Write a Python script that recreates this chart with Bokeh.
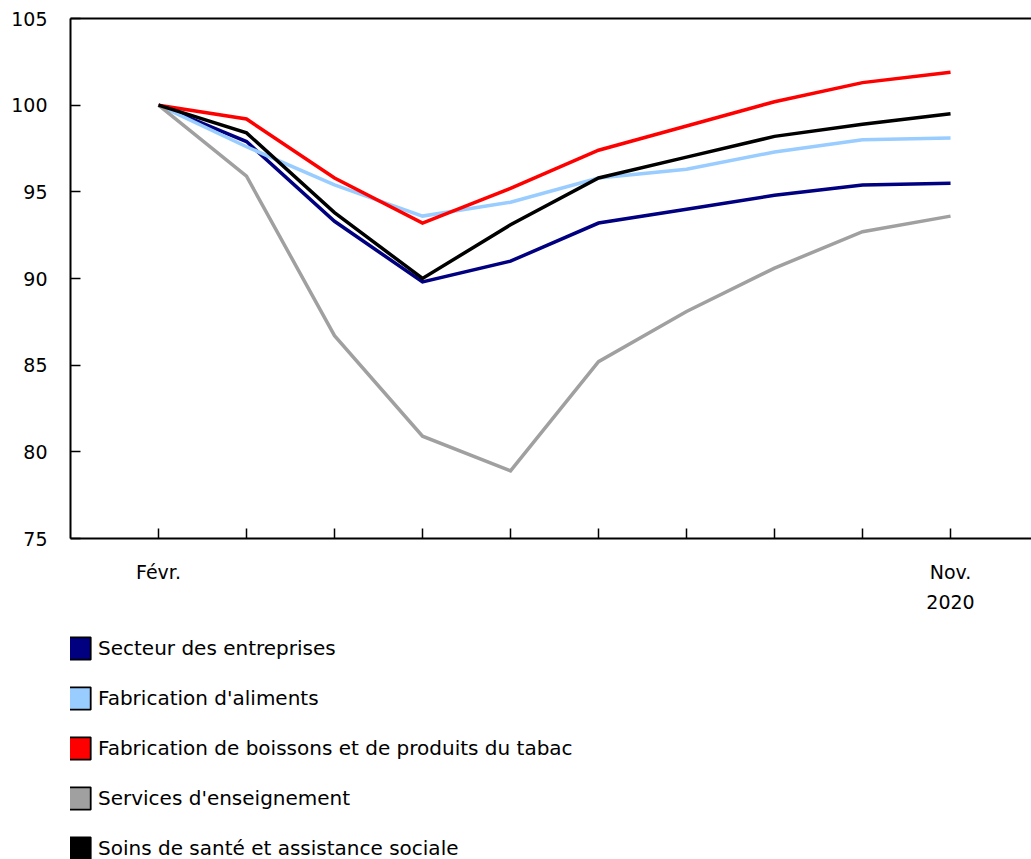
from bokeh.plotting import figure
from bokeh.layouts import column
from bokeh.models import Range1d, FixedTicker, LinearAxis, Legend, LegendItem
from bokeh.embed import file_html
from bokeh.resources import INLINE

# ---- data ----
months = ["Févr.", "Mars", "Avr.", "Mai", "Juin", "Juil.", "Août", "Sept.", "Oct.", "Nov."]
x_idx = list(range(len(months)))
tick_labels = {0: "Févr.", 9: "Nov.\n2020"}
y_ticks = [75, 80, 85, 90, 95, 100, 105]

secteur = [100.0, 97.9, 93.3, 89.8, 91.0, 93.2, 94.0, 94.8, 95.4, 95.5]
aliments = [100.0, 97.6, 95.4, 93.6, 94.4, 95.8, 96.3, 97.3, 98.0, 98.1]
boissons = [100.0, 99.2, 95.8, 93.2, 95.2, 97.4, 98.8, 100.2, 101.3, 101.9]
enseignement = [100.0, 95.9, 86.7, 80.9, 78.9, 85.2, 88.1, 90.6, 92.7, 93.6]
sante = [100.0, 98.4, 93.8, 90.0, 93.1, 95.8, 97.0, 98.2, 98.9, 99.5]

names = ["Secteur des entreprises", "Fabrication d'aliments",
         "Fabrication de boissons et de produits du tabac",
         "Services d'enseignement", "Soins de santé et assistance sociale"]
colors = ["#000080", "#99CCFF", "#FF0000", "#A0A0A0", "#000000"]
series = [secteur, aliments, boissons, enseignement, sante]

FONT = "DejaVu Sans"

p = figure(width=1031, height=623, output_backend="svg", toolbar_location=None,
           x_range=Range1d(-1, 9.92), y_range=Range1d(75, 105),
           min_border_left=70, min_border_right=0, min_border_top=18,
           min_border_bottom=85)
p.xgrid.visible = False
p.ygrid.visible = False
p.outline_line_color = None

# y axis
p.yaxis.ticker = FixedTicker(ticks=y_ticks)
p.yaxis.major_tick_in = 10
p.yaxis.major_tick_out = 0
p.yaxis.minor_tick_line_color = None
p.yaxis.axis_line_width = 2
p.yaxis.major_tick_line_width = 1.5
p.yaxis.axis_line_color = "black"
p.yaxis.major_tick_line_color = "black"
p.yaxis.major_label_text_font = FONT
p.yaxis.major_label_text_font_size = "19px"
p.yaxis.major_label_text_color = "black"
p.yaxis.major_label_standoff = 23

# x axis
p.xaxis.ticker = FixedTicker(ticks=x_idx)
p.xaxis.major_label_overrides = {i: tick_labels.get(i, "") for i in x_idx}
p.xaxis.major_tick_in = 10
p.xaxis.major_tick_out = 0
p.xaxis.minor_tick_line_color = None
p.xaxis.axis_line_width = 2
p.xaxis.major_tick_line_width = 1.5
p.xaxis.axis_line_color = "black"
p.xaxis.major_tick_line_color = "black"
p.xaxis.major_label_text_font = FONT
p.xaxis.major_label_text_font_size = "19px"
p.xaxis.major_label_text_color = "black"
p.xaxis.major_label_text_line_height = 1.38
p.xaxis.major_label_standoff = 22

# top line
top_axis = LinearAxis(ticker=FixedTicker(ticks=[]), major_label_text_font_size="0px",
                      major_tick_out=0, major_tick_in=0, minor_tick_out=0, minor_tick_in=0,
                      axis_line_width=2, axis_line_color="black", major_label_standoff=0)
p.add_layout(top_axis, "above")

for vals, c in zip(series, colors):
    p.line(x_idx, vals, line_color=c, line_width=3.5, line_join="miter")

# ---- legend panel ----
leg = figure(width=1031, height=236, output_backend="svg", toolbar_location=None,
             x_range=Range1d(0, 1), y_range=Range1d(0, 1),
             x_axis_location=None, y_axis_location=None,
             min_border_left=70, min_border_right=0, min_border_top=11,
             min_border_bottom=0)
leg.xgrid.visible = False
leg.ygrid.visible = False
leg.outline_line_color = None

items = []
for name, c, vals in zip(names, colors, series):
    r = leg.quad(left=[x_idx[0]], right=[x_idx[0]], top=[vals[0]], bottom=[vals[0]],
                 fill_color=c, line_color="black", line_width=1.8, visible=False)
    items.append(LegendItem(label=name, renderers=[r]))

legend = Legend(items=items, location=(-5, -3), orientation="vertical",
                glyph_width=28, glyph_height=28, label_height=28, spacing=22,
                padding=0, margin=0, label_standoff=5,
                border_line_color=None, background_fill_alpha=0,
                inactive_fill_alpha=0,
                label_text_font=FONT, label_text_font_size="20px",
                label_text_color="black")
leg.add_layout(legend, "center")

layout = column(p, leg)
open("out.html", "w").write(file_html(layout, INLINE))
